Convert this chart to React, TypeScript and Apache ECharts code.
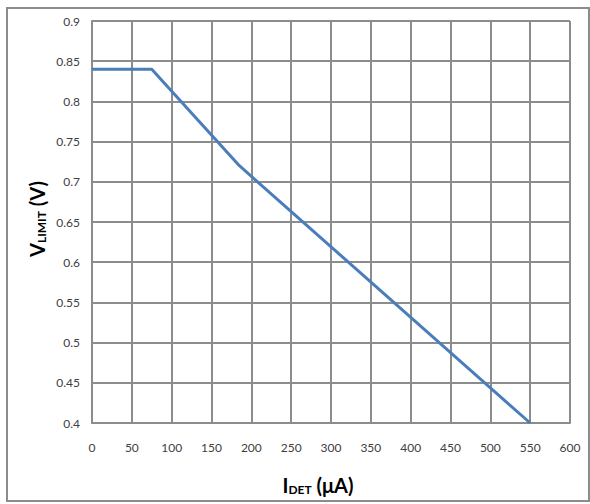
import React, { useEffect, useRef } from "react";
import * as echarts from "echarts";

const xValues = [0, 75, 185, 550];
const yValues = [0.84, 0.84, 0.72, 0.4];
const xTicks = [0, 50, 100, 150, 200, 250, 300, 350, 400, 450, 500, 550, 600];
const yTicks = [0.4, 0.45, 0.5, 0.55, 0.6, 0.65, 0.7, 0.75, 0.8, 0.85, 0.9];

const FONT = "Lato, 'Open Sans', sans-serif";

export default function App() {
  const ref = useRef<HTMLDivElement>(null);
  useEffect(() => {
    const chart = echarts.init(ref.current!, null, { renderer: "svg" });
    const gridColor = "#8c8c8c";
    const rich = {
      b: { fontSize: 20, fontWeight: "bold", fontFamily: FONT, fill: "#000" },
      s: {
        fontSize: 12,
        fontWeight: "bold",
        fontFamily: FONT,
        fill: "#000",
        verticalAlign: "bottom",
        padding: [8, 0, 0, 0],
      },
    };
    chart.setOption({
      animation: false,
      backgroundColor: "#ffffff",
      grid: { left: 92, top: 21, width: 478, height: 402, containLabel: false },
      xAxis: {
        type: "value",
        min: 0,
        max: 600,
        interval: 50,
        axisLine: { show: true, lineStyle: { color: gridColor, width: 2 } },
        axisTick: { show: false },
        splitLine: { show: true, lineStyle: { color: gridColor, width: 2 } },
        axisLabel: {
          margin: 18,
          fontSize: 12,
          color: "#404040",
          fontFamily: FONT,
          formatter: (v: number) => (xTicks.includes(v) ? String(v) : ""),
        },
      },
      yAxis: {
        type: "value",
        min: 0.4,
        max: 0.9,
        interval: 0.05,
        axisLine: { show: true, lineStyle: { color: gridColor, width: 2 } },
        axisTick: { show: false },
        splitLine: { show: true, lineStyle: { color: gridColor, width: 2 } },
        axisLabel: {
          margin: 12,
          fontSize: 12,
          color: "#404040",
          fontFamily: FONT,
          formatter: (v: number) => {
            const t = yTicks.find((y) => Math.abs(y - v) < 1e-6);
            return t === undefined ? "" : String(t);
          },
        },
      },
      series: [
        {
          type: "line",
          data: xValues.map((x, i) => [x, yValues[i]]),
          showSymbol: false,
          symbol: "none",
          lineStyle: { color: "#4a7ebb", width: 3 },
        },
      ],
      graphic: [
        {
          type: "rect",
          shape: { x: 7, y: 8, width: 582, height: 493 },
          style: { fill: "none", stroke: "#8c8c8c", lineWidth: 2 },
          silent: true,
        },
        {
          type: "text",
          x: 318,
          y: 485,
          style: {
            text: "{b|I}{s|DET}{b| (μA)}",
            align: "center",
            verticalAlign: "middle",
            rich,
          },
        },
        {
          type: "text",
          x: 37,
          y: 219,
          rotation: Math.PI / 2,
          style: {
            text: "{b|V}{s|LIMIT}{b| (V)}",
            align: "center",
            verticalAlign: "middle",
            rich,
          },
        },
      ],
    });
    return () => chart.dispose();
  }, []);
  return (
    <div
      ref={ref}
      style={{ position: "fixed", left: 0, top: 0, width: 590, height: 504, background: "#fff" }}
    />
  );
}
